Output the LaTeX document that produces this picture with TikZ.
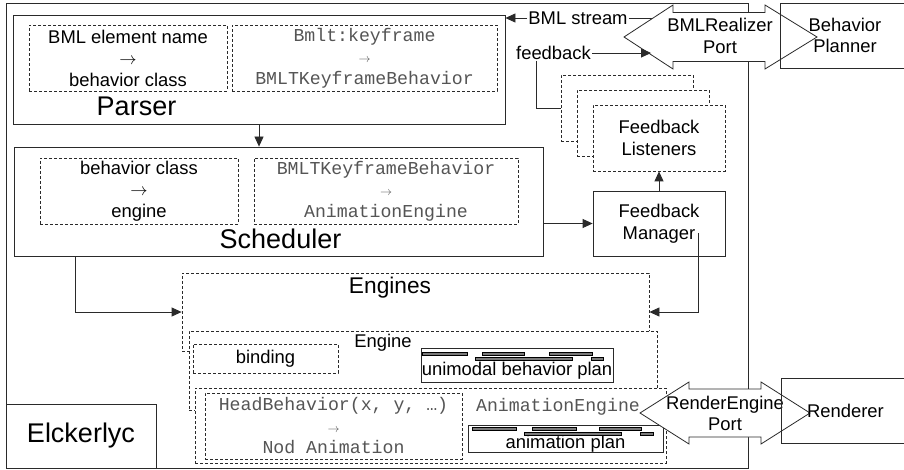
\documentclass[tikz,border=0pt]{standalone}
\usepackage{fontspec}
\setmainfont{Liberation Sans}
\setmonofont{Liberation Mono}
\usetikzlibrary{arrows.meta}
\definecolor{linec}{HTML}{2A2A2A}
\definecolor{codec}{HTML}{555555}
\definecolor{barc}{HTML}{7A7A7A}
\tikzset{
  box/.style={draw=linec, fill=white, line width=0.8pt, inner sep=0pt},
  dbox/.style={box, dash pattern=on 3pt off 2pt},
  lbl/.style={inner sep=1pt, font=\fontsize{18.4}{21.5}\selectfont, align=center},
  big/.style={inner sep=1pt, font=\fontsize{27}{30}\selectfont},
  code/.style={inner sep=1pt, font=\fontsize{18.2}{21.5}\selectfont\ttfamily, text=codec, align=center},
  arr/.style={draw=linec, line width=0.8pt, -{Triangle[length=10pt,width=9pt]}},
  wire/.style={draw=linec, line width=0.8pt},
  ext/.style={draw=linec, line width=0.8pt, inner sep=0pt},
  bar/.style={draw=black, fill=barc, line width=0.4pt}
}
\begin{document}
\begin{tikzpicture}[x=1pt, y=-1pt]
    \useasboundingbox (0,0) rectangle (904,470);
    \clip (0,0) rectangle (904,470);
    \node[box, minimum width=742pt, minimum height=465pt] (elck) at (377,235.5) {};
    \node[box, big, minimum width=150pt, minimum height=64pt] (elckl) at (81,436) {Elckerlyc};

    \node[box, minimum width=492pt, minimum height=109pt] (parser) at (259,69.5) {};
    \node[dbox, lbl, minimum width=198pt, minimum height=66pt] (pmap) at (128,58) {BML element name\\$\rightarrow$\\behavior class};
    \node[dbox, code, minimum width=265pt, minimum height=66pt] (pcode) at (364.5,58) {Bmlt:keyframe\\$\scriptstyle\rightarrow$\\BMLTKeyframeBehavior};
    \node[big] (parserl) at (136.5,106) {Parser};

    \node[box, minimum width=529pt, minimum height=109pt] (sched) at (278.5,201.5) {};
    \node[dbox, lbl, minimum width=198pt, minimum height=66pt] (smap) at (139,191) {behavior class\\$\rightarrow$\\engine};
    \node[dbox, code, minimum width=264pt, minimum height=66pt] (scode) at (386,191) {BMLTKeyframeBehavior\\$\scriptstyle\rightarrow$\\AnimationEngine};
    \node[big] (schedl) at (280.5,239) {Scheduler};

    \node[dbox, minimum width=132pt, minimum height=66pt] (fl1) at (627,108) {};
    \node[dbox, minimum width=132pt, minimum height=66pt] (fl2) at (643,123) {};
    \node[dbox, lbl, minimum width=132pt, minimum height=66pt] (fl3) at (659,138) {Feedback\\Listeners};
    \node[box, lbl, minimum width=132pt, minimum height=65pt] (fm) at (659,223.5) {Feedback\\Manager};

    \node[dbox, minimum width=467pt, minimum height=78pt] (engines) at (415.5,312) {};
    \node[lbl, font=\fontsize{22.7}{26}\selectfont] (enginesl) at (390,288) {Engines};
    \node[dbox, minimum width=468pt, minimum height=79pt] (engine) at (423,370.5) {};
    \node[lbl] (enginel) at (383,343) {Engine};
    \node[dbox, lbl, minimum width=145pt, minimum height=29pt] (binding) at (265.5,358.5) {binding};
    \node[box, minimum width=192pt, minimum height=34pt] (ubp) at (517,365) {};
    \node[lbl] (ubpl) at (517,371) {unimodal behavior plan};
    \begin{scope}[shift={(ubp.north west)}]
        \foreach \a/\b/\r in {2/47/6, 62/104/6, 129/172/6, 55/152/11, 171/183/11}
            \draw[bar] (\a,\r-1.4) rectangle (\b,\r+1.4);
    \end{scope}

    \node[dbox, minimum width=471pt, minimum height=75pt] (animeng) at (430.5,425.5) {};
    \node[code] (animengl) at (558,407) {AnimationEngine};
    \node[dbox, code, minimum width=257pt, minimum height=66pt] (head) at (333.5,426) {HeadBehavior(x, y, …)\\$\scriptstyle\rightarrow$\\Nod Animation};
    \node[box, minimum width=195pt, minimum height=27pt] (anplan) at (565.5,438.5) {};
    \node[lbl] (anplanl) at (565.5,444) {animation plan};
    \begin{scope}[shift={(anplan.north west)}]
        \foreach \a/\b/\r in {5/49/4, 65/109/4, 132/174/4, 57/154/9, 173/186/9}
            \draw[bar] (\a,\r-1.4) rectangle (\b,\r+1.4);
    \end{scope}

    \draw[arr] (parser.south) -- (parser.south |- sched.north);
    \draw[arr] (sched.east |- fm.west) -- (fm.west);
    \draw[arr] (fm.north) -- (fl3.south);
    \draw[arr] (sched.south west) ++(62,0) |- (engines.west);
    \draw[arr] (fm.south east) ++(-27,-23) |- (engines.east);

    \node[lbl] (bmls) at (578,18) {BML stream};
    \node[lbl] (fb) at (553.5,53) {feedback};
    \draw[wire] (fb.south) ++(-17,0) |- (fl1.west);
    \draw[arr] (bmls.west) -- (bmls.west -| parser.east);
    \draw[wire] (bmls.east) -- ++(30,0);

    \coordinate (bmlp) at (720.5,37);
    \draw[box] (bmlp) ++(-96.5,0) -- ++(49,-32) -- ++(0,7.5) -- ++(92,0) -- ++(0,-7.5) -- ++(52,32)
        -- ++(-52,32) -- ++(0,-7.5) -- ++(-92,0) -- ++(0,7.5) -- cycle;
    \node[lbl] (bmlpl) at (720,36) {BMLRealizer\\Port};
    \coordinate (rep) at (725,413);
    \draw[box] (rep) ++(-85,0) -- ++(49,-31) -- ++(0,7) -- ++(72,0) -- ++(0,-7) -- ++(49,31)
        -- ++(-49,31) -- ++(0,-7) -- ++(-72,0) -- ++(0,7) -- cycle;
    \node[lbl] (repl) at (725,413.5) {RenderEngine\\Port};
    \draw[arr] (fb.east) -- ++(59,0);

    \node[ext, lbl, minimum width=130pt, minimum height=65pt] (planner) at (845,35.5) {Behavior\\Planner};
    \node[ext, lbl, minimum width=129pt, minimum height=65pt] (renderer) at (845.5,410.5) {Renderer};
\end{tikzpicture}
\end{document}
